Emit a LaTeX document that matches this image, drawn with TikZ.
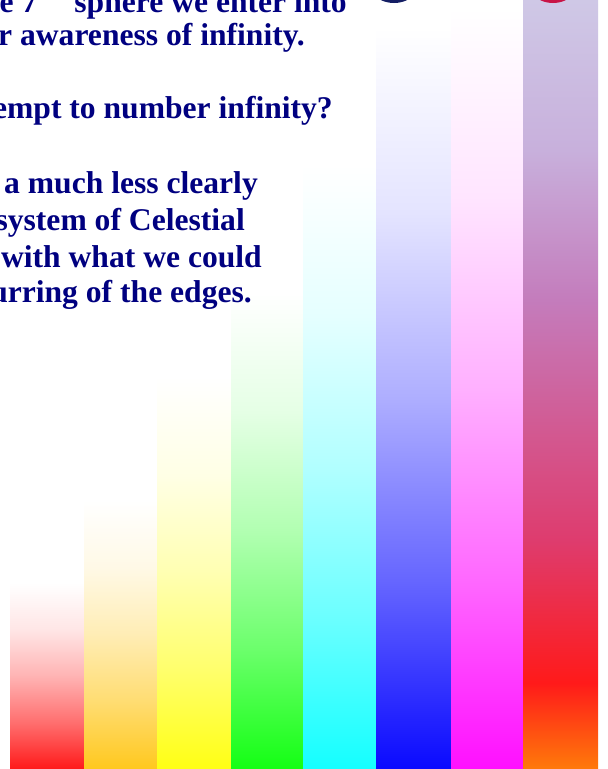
\documentclass[tikz,border=0pt]{standalone}
\usepackage{fontspec}
\setmainfont{Liberation Serif}
\usepackage{tikz}

\definecolor{textnavy}{RGB}{0,0,128}
\definecolor{barred}{RGB}{255,26,26}
\definecolor{barorange}{RGB}{255,200,30}
\definecolor{baryellow}{RGB}{255,255,20}
\definecolor{bargreen}{RGB}{20,255,20}
\definecolor{barcyan}{RGB}{20,255,255}
\definecolor{barblue}{RGB}{10,10,255}
\definecolor{barmagenta}{RGB}{255,16,255}
\definecolor{lastA}{RGB}{207,200,230}
\definecolor{lastB}{RGB}{200,176,220}
\definecolor{lastC}{RGB}{196,124,188}
\definecolor{lastD}{RGB}{222,60,110}
\definecolor{lastE}{RGB}{255,26,26}
\definecolor{lastF}{RGB}{255,122,10}
\definecolor{blobblue}{RGB}{20,30,100}
\definecolor{blobred}{RGB}{200,20,70}

% white at the top, full colour at the bottom, slow start
\newcommand\barshading[2]{%
  \colorlet{#1A}{#2!11!white}\colorlet{#1B}{#2!33!white}\colorlet{#1C}{#2!63!white}%
  \pgfdeclareverticalshading{#1}{100bp}{color(0bp)=(#2); color(25bp)=(#2);
    color(37.5bp)=(#1C); color(50bp)=(#1B); color(62.5bp)=(#1A);
    color(75bp)=(white); color(100bp)=(white)}}
\barshading{redbar}{barred}
\barshading{orangebar}{barorange}
\barshading{yellowbar}{baryellow}
\barshading{greenbar}{bargreen}
\barshading{cyanbar}{barcyan}
\barshading{bluebar}{barblue}
\barshading{magentabar}{barmagenta}

\pgfdeclareverticalshading{lastbar}{100bp}{color(0bp)=(lastF); color(25bp)=(lastF);
  color(30.6bp)=(lastE); color(39.9bp)=(lastD); color(55.5bp)=(lastC);
  color(65.25bp)=(lastB); color(75bp)=(lastA); color(100bp)=(lastA)}

\tikzset{line/.style={anchor=base east,inner sep=0pt,text=textnavy,
    font=\fontsize{31.6}{37}\selectfont\bfseries}}

\begin{document}
\begin{tikzpicture}[x=1pt,y=-1pt]
    \useasboundingbox (0,0) rectangle (608,769);
    \clip (0,0) rectangle (608,769);
    \fill[white] (0,0) rectangle (608,769);
    % bars
    \shade[shading=redbar] (10,583) rectangle (84,769);
    \shade[shading=orangebar] (84,500) rectangle (157,769);
    \shade[shading=yellowbar] (157,377) rectangle (231,769);
    \shade[shading=greenbar] (231,293) rectangle (303,769);
    \shade[shading=cyanbar] (303,165) rectangle (376,769);
    \shade[shading=bluebar] (376,27) rectangle (451,769);
    \shade[shading=magentabar] (451,8) rectangle (523,769);
    \shade[shading=lastbar] (523,0) rectangle (598,769);
    % blobs cut by the top edge
    \fill[blobblue] (394,-28) circle (31);
    \fill[blobred] (553,-27) circle (30);
    % text
    \node[line] (line1) at (347,12) {he 7\hspace{37pt}sphere we enter into};
    \node[line] (line2) at (305,45) {r awareness of infinity.};
    \node[line] (line3) at (333,118) {empt to number infinity?};
    \node[line] (line4) at (258,193) {a much less clearly};
    \node[line] (line5) at (245,230) {system of Celestial};
    \node[line] (line6) at (262,267) {with what we could};
    \node[line] (line7) at (252,302) {urring of the edges.};
\end{tikzpicture}
\end{document}
